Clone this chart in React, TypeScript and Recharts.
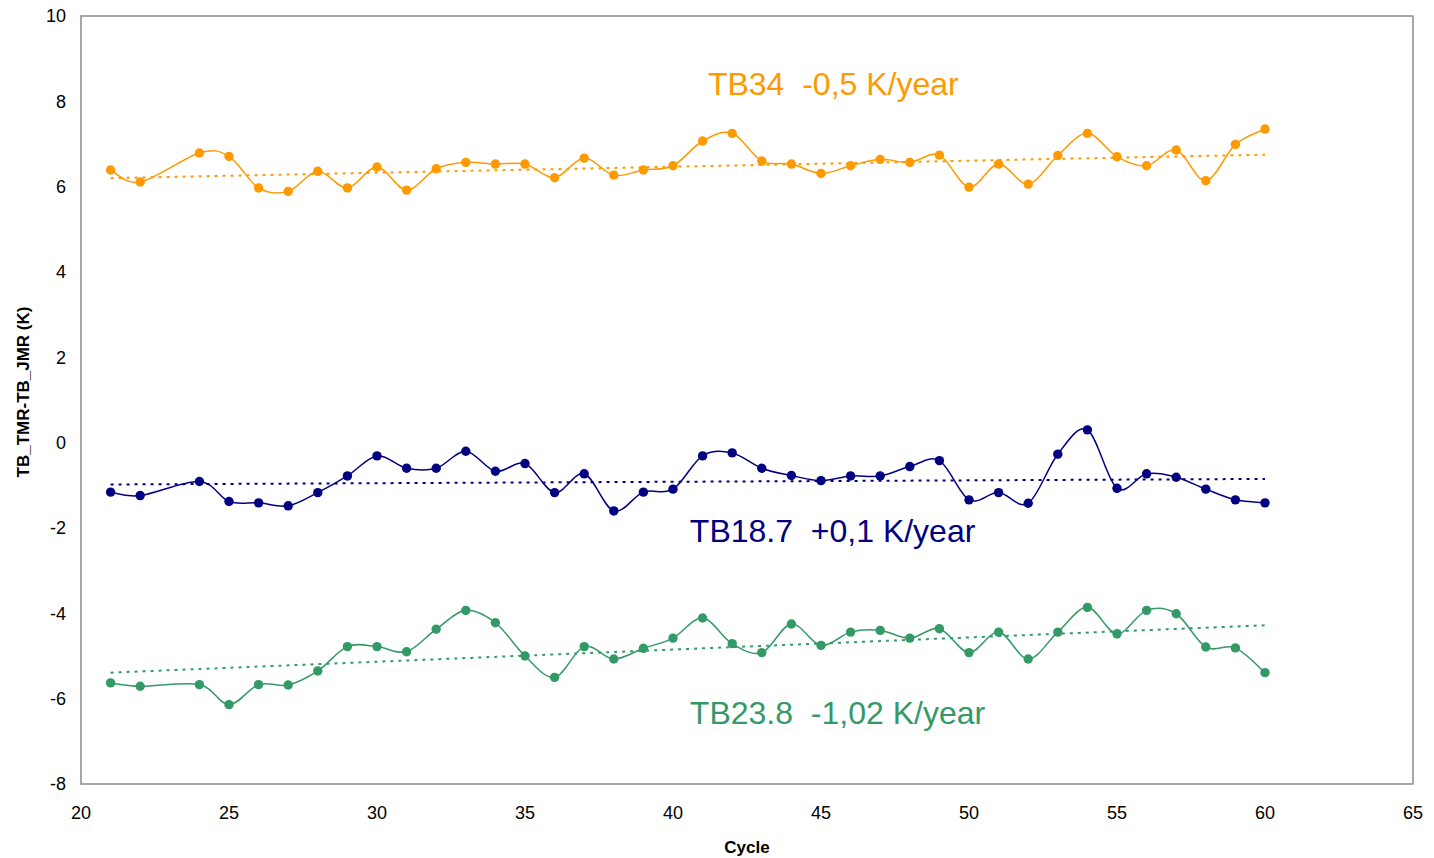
import React from 'react';
import { LineChart, Line, XAxis, YAxis, ReferenceArea, ReferenceDot, Label } from 'recharts';

const cycles = [21, 22, 24, 25, 26, 27, 28, 29, 30, 31, 32, 33, 34, 35, 36, 37, 38, 39, 40, 41, 42, 43, 44, 45, 46, 47, 48, 49, 50, 51, 52, 53, 54, 55, 56, 57, 58, 59, 60];
const tb34 = [6.39, 6.11, 6.79, 6.71, 5.97, 5.89, 6.36, 5.97, 6.46, 5.92, 6.42, 6.57, 6.53, 6.53, 6.21, 6.67, 6.27, 6.39, 6.49, 7.07, 7.25, 6.60, 6.53, 6.31, 6.49, 6.64, 6.57, 6.74, 5.99, 6.53, 6.06, 6.73, 7.25, 6.70, 6.49, 6.86, 6.14, 6.99, 7.35];
const tb187 = [-1.16, -1.24, -0.91, -1.38, -1.41, -1.48, -1.17, -0.78, -0.31, -0.60, -0.60, -0.20, -0.67, -0.49, -1.17, -0.73, -1.60, -1.16, -1.09, -0.31, -0.24, -0.60, -0.77, -0.89, -0.78, -0.78, -0.56, -0.42, -1.34, -1.17, -1.42, -0.27, 0.30, -1.07, -0.73, -0.81, -1.09, -1.34, -1.41];
const tb238 = [-5.63, -5.71, -5.67, -6.14, -5.67, -5.68, -5.35, -4.78, -4.78, -4.90, -4.37, -3.93, -4.22, -5.00, -5.50, -4.78, -5.07, -4.82, -4.58, -4.11, -4.71, -4.92, -4.25, -4.75, -4.44, -4.40, -4.58, -4.36, -4.92, -4.44, -5.07, -4.44, -3.86, -4.48, -3.93, -4.01, -4.79, -4.81, -5.39];

const trendCycles = [21, 60];
const tb34Trend = [6.2, 6.75];
const tb187Trend = [-0.98, -0.85];
const tb238Trend = [-5.39, -4.28];

const xTicks = [20, 25, 30, 35, 40, 45, 50, 55, 60, 65];
const yTicks = [-8, -6, -4, -2, 0, 2, 4, 6, 8, 10];

const ORANGE = '#FF9900';
const NAVY = '#000080';
const GREEN = '#339966';
const FONT = "Arial, 'Liberation Sans', sans-serif";

const annotations = [
  { text: 'TB34  -0,5 K/year', cycle: 41.18, value: 8.41, color: ORANGE },
  { text: 'TB18.7  +0,1 K/year', cycle: 40.57, value: -2.07, color: NAVY },
  { text: 'TB23.8  -1,02 K/year', cycle: 40.57, value: -6.33, color: GREEN },
];

const rows = cycles.map((c, i) => ({ cycle: c, tb34: tb34[i], tb187: tb187[i], tb238: tb238[i] }));
const trendRows = trendCycles.map((c, i) => ({ cycle: c, tb34: tb34Trend[i], tb187: tb187Trend[i], tb238: tb238Trend[i] }));

// Catmull-Rom style smoothing (similar to Excel's smoothed line)
function smoothCurve(context: any) {
  let pts: number[][] = [];
  return {
    areaStart() {},
    areaEnd() {},
    lineStart() {
      pts = [];
    },
    point(x: number, y: number) {
      pts.push([+x, +y]);
    },
    lineEnd() {
      if (!pts.length) return;
      context.moveTo(pts[0][0], pts[0][1]);
      for (let i = 0; i < pts.length - 1; i++) {
        const p0 = pts[i - 1] || pts[i];
        const p1 = pts[i];
        const p2 = pts[i + 1];
        const p3 = pts[i + 2] || p2;
        context.bezierCurveTo(
          p1[0] + (p2[0] - p0[0]) / 6,
          p1[1] + (p2[1] - p0[1]) / 6,
          p2[0] - (p3[0] - p1[0]) / 6,
          p2[1] - (p3[1] - p1[1]) / 6,
          p2[0],
          p2[1]
        );
      }
    },
  };
}

const AnnText = (color: string, text: string) => (props: any) => {
  const vb = props.viewBox || {};
  return (
    <text
      x={vb.x}
      y={vb.y}
      fill={color}
      fontSize={32}
      fontFamily={FONT}
      dominantBaseline="central"
      textAnchor="start"
      style={{ whiteSpace: 'pre' }}
    >
      {text}
    </text>
  );
};

const XTitle = (props: any) => {
  const vb = props.viewBox || {};
  return (
    <text x={vb.x + vb.width / 2} y={853} textAnchor="middle" fontSize={17} fontWeight="bold" fontFamily={FONT} fill="#000">
      Cycle
    </text>
  );
};

const YTitle = () => (
  <text
    x={0}
    y={0}
    transform="translate(29, 392) rotate(-90)"
    textAnchor="middle"
    fontSize={17}
    fontWeight="bold"
    fontFamily={FONT}
    fill="#000"
  >
    TB_TMR-TB_JMR (K)
  </text>
);

export default function App() {
  return (
    <div style={{ position: 'absolute', left: 0, top: 0, background: '#fff' }}>
      <LineChart width={1434} height={858} data={rows} margin={{ top: 16, right: 21, left: 21, bottom: 44 }}>
        <XAxis
          dataKey="cycle"
          type="number"
          domain={[20, 65]}
          ticks={xTicks}
          tickLine={false}
          axisLine={false}
          tickSize={0}
          tickMargin={22}
          height={30}
          tick={{ fontSize: 18, fontFamily: FONT, fill: '#000' }}
          interval={0}
        >
          <Label content={<XTitle />} />
        </XAxis>
        <YAxis
          type="number"
          domain={[-8, 10]}
          ticks={yTicks}
          tickLine={false}
          axisLine={false}
          tickSize={0}
          tickMargin={15}
          width={60}
          tick={{ fontSize: 18, fontFamily: FONT, fill: '#000' }}
          interval={0}
        >
          <Label content={<YTitle />} />
        </YAxis>
        <ReferenceArea x1={20} x2={65} y1={-8} y2={10} fill="none" fillOpacity={0} stroke="#8c8c8c" strokeWidth={1.5} />
        <Line
          dataKey="tb34"
          type={smoothCurve as any}
          stroke={ORANGE}
          strokeWidth={1.5}
          dot={{ r: 4.7, fill: ORANGE, stroke: 'none' }}
          isAnimationActive={false}
        />
        <Line
          dataKey="tb187"
          type={smoothCurve as any}
          stroke={NAVY}
          strokeWidth={1.5}
          dot={{ r: 4.7, fill: NAVY, stroke: 'none' }}
          isAnimationActive={false}
        />
        <Line
          dataKey="tb238"
          type={smoothCurve as any}
          stroke={GREEN}
          strokeWidth={1.5}
          dot={{ r: 4.7, fill: GREEN, stroke: 'none' }}
          isAnimationActive={false}
        />
        <Line data={trendRows} dataKey="tb34" type="linear" stroke={ORANGE} strokeWidth={2} strokeDasharray="3 5" dot={false} isAnimationActive={false} />
        <Line data={trendRows} dataKey="tb187" type="linear" stroke={NAVY} strokeWidth={2} strokeDasharray="3 5" dot={false} isAnimationActive={false} />
        <Line data={trendRows} dataKey="tb238" type="linear" stroke={GREEN} strokeWidth={2} strokeDasharray="3 5" dot={false} isAnimationActive={false} />
        {annotations.map((a) => (
          <ReferenceDot
            key={a.text}
            x={a.cycle}
            y={a.value}
            r={0}
            fill="none"
            stroke="none"
            label={AnnText(a.color, a.text)}
          />
        ))}
      </LineChart>
    </div>
  );
}
